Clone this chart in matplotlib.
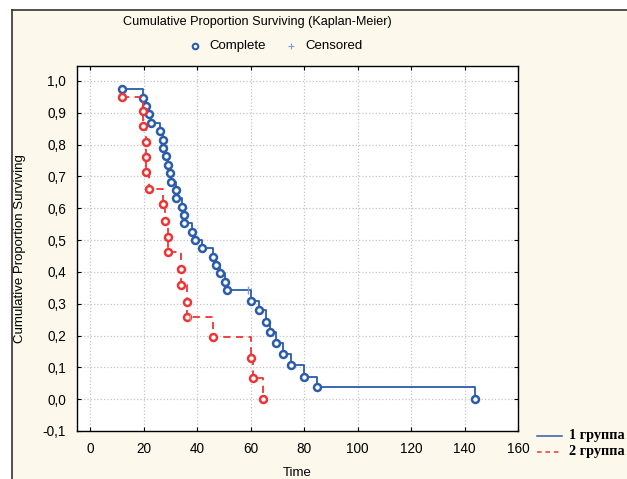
import matplotlib
matplotlib.use("Agg")
import matplotlib.pyplot as plt
from matplotlib.lines import Line2D
from matplotlib.patches import Rectangle
from matplotlib.ticker import FuncFormatter, MultipleLocator

# group 1 (solid blue)
times1 = [12, 19.6, 20.8, 21.8, 22.7, 26.0, 27.2, 27.2, 28.2, 29.2, 29.9, 30.0,
          32.1, 32.1, 34.2, 35.1, 35.1, 38.0, 39.0, 41.9, 45.9, 47.1, 48.4, 50.4,
          51.2, 60.0, 63.1, 65.7, 67.3, 69.4, 72.2, 75.0, 79.9, 84.9, 144]
surv1 = [0.974, 0.947, 0.921, 0.895, 0.868, 0.842, 0.816, 0.789, 0.763, 0.737,
         0.711, 0.684, 0.658, 0.632, 0.605, 0.579, 0.553, 0.526, 0.500, 0.474,
         0.447, 0.421, 0.395, 0.368, 0.342, 0.309, 0.280, 0.243, 0.210, 0.178,
         0.142, 0.107, 0.070, 0.038, 0.0]
cens1_t = [59.0]
cens1_s = [0.342]

# group 2 (dashed red)
times2 = [12, 19.6, 19.6, 20.8, 20.8, 20.8, 21.9, 27.0, 28.0, 29.2, 29.2, 33.9,
          33.9, 36.0, 36.0, 45.8, 60.0, 60.7, 64.7]
surv2 = [0.951, 0.906, 0.857, 0.809, 0.760, 0.715, 0.662, 0.613, 0.560, 0.510,
         0.461, 0.408, 0.358, 0.305, 0.257, 0.196, 0.128, 0.068, 0.0]
cens2_t = [37.3]
cens2_s = [0.257]

group_labels = ["1 группа", "2 группа"]

BLUE = "#2b5cab"
RED = "#ee3535"
CREAM = "#fcf8ec"

plt.rcParams["font.family"] = ["Liberation Sans", "DejaVu Sans"]

fig = plt.figure(figsize=(6.27, 4.79), dpi=100)
fig.patch.set_facecolor("white")
W, H = 627.0, 479.0

# cream panel with dark frame on top and left
fig.add_artist(Rectangle((12 / W, 0), 1, 1 - 10 / H, transform=fig.transFigure,
                         facecolor=CREAM, edgecolor="none", zorder=-5))
fig.add_artist(Line2D([12 / W, 1], [1 - 10 / H, 1 - 10 / H], transform=fig.transFigure,
                      color="#333333", lw=1.2))
fig.add_artist(Line2D([12 / W, 12 / W], [0, 1 - 10 / H], transform=fig.transFigure,
                      color="#333333", lw=1.2))

ax = fig.add_axes([77 / W, 1 - 431 / H, (518 - 77) / W, (431 - 66) / H])
ax.set_facecolor("white")

ax.step(times1, surv1, where="post", color=BLUE, lw=1.3)
ax.plot(times1, surv1, "o", ms=5, mfc="white", mec=BLUE, mew=1.8, ls="none")
ax.plot(cens1_t, cens1_s, marker="|", ms=6, color="#7f9fd6", mew=1.0, ls="none")

ax.step(times2, surv2, where="post", color=RED, lw=1.3, ls=(0, (4, 3)))
ax.plot(times2, surv2, "o", ms=5, mfc="white", mec=RED, mew=1.8, ls="none")
ax.plot(cens2_t, cens2_s, marker="|", ms=6, color="#f08080", mew=1.0, ls="none")

ax.set_xlim(-5, 160)
ax.set_ylim(-0.1, 1.047)
ax.xaxis.set_major_locator(MultipleLocator(20))
ax.yaxis.set_major_locator(MultipleLocator(0.1))
ax.yaxis.set_major_formatter(FuncFormatter(lambda v, p: f"{v:.1f}".replace(".", ",").replace("-0,0", "0,0")))
ax.tick_params(direction="in", length=3, width=0.8, labelsize=9.8, top=True, right=True,
               labeltop=False, labelright=False, pad=8)
ax.grid(True, color="#c4c4c4", ls=":", lw=0.9)
for s in ax.spines.values():
    s.set_color("black")
    s.set_linewidth(1.0)

ax.set_xlabel("Time", fontsize=9.5, labelpad=8)
ax.set_ylabel("Cumulative Proportion Surviving", fontsize=9.5, labelpad=12)

# top title and marker legend
fig.text(257 / W, 1 - 22 / H, "Cumulative Proportion Surviving (Kaplan-Meier)",
         ha="center", va="center", fontsize=9.1)
fig.add_artist(Line2D([195 / W], [1 - 46 / H], transform=fig.transFigure, marker="o",
                      ms=4, mfc="white", mec=BLUE, mew=1.5))
fig.text(209 / W, 1 - 46 / H, "Complete", ha="left", va="center", fontsize=9.5)
fig.add_artist(Line2D([291 / W], [1 - 46 / H], transform=fig.transFigure, marker="+",
                      ms=5, color="#7f9fd6", mew=0.8))
fig.text(305 / W, 1 - 46 / H, "Censored", ha="left", va="center", fontsize=9.5)

# group legend, lower right
for i, (lab, col, ls) in enumerate(zip(group_labels, [BLUE, RED], ["-", (0, (3, 2.5))])):
    yy = 1 - (436 + 16 * i) / H
    fig.add_artist(Line2D([537 / W, 562 / W], [yy, yy], transform=fig.transFigure,
                          color=col, lw=1.1, ls=ls))
    fig.text(569 / W, yy, lab, ha="left", va="center", fontsize=10.3, fontweight="bold",
             family=["Liberation Serif", "DejaVu Serif"])

fig.savefig("out.png", dpi=100, facecolor=fig.get_facecolor())
